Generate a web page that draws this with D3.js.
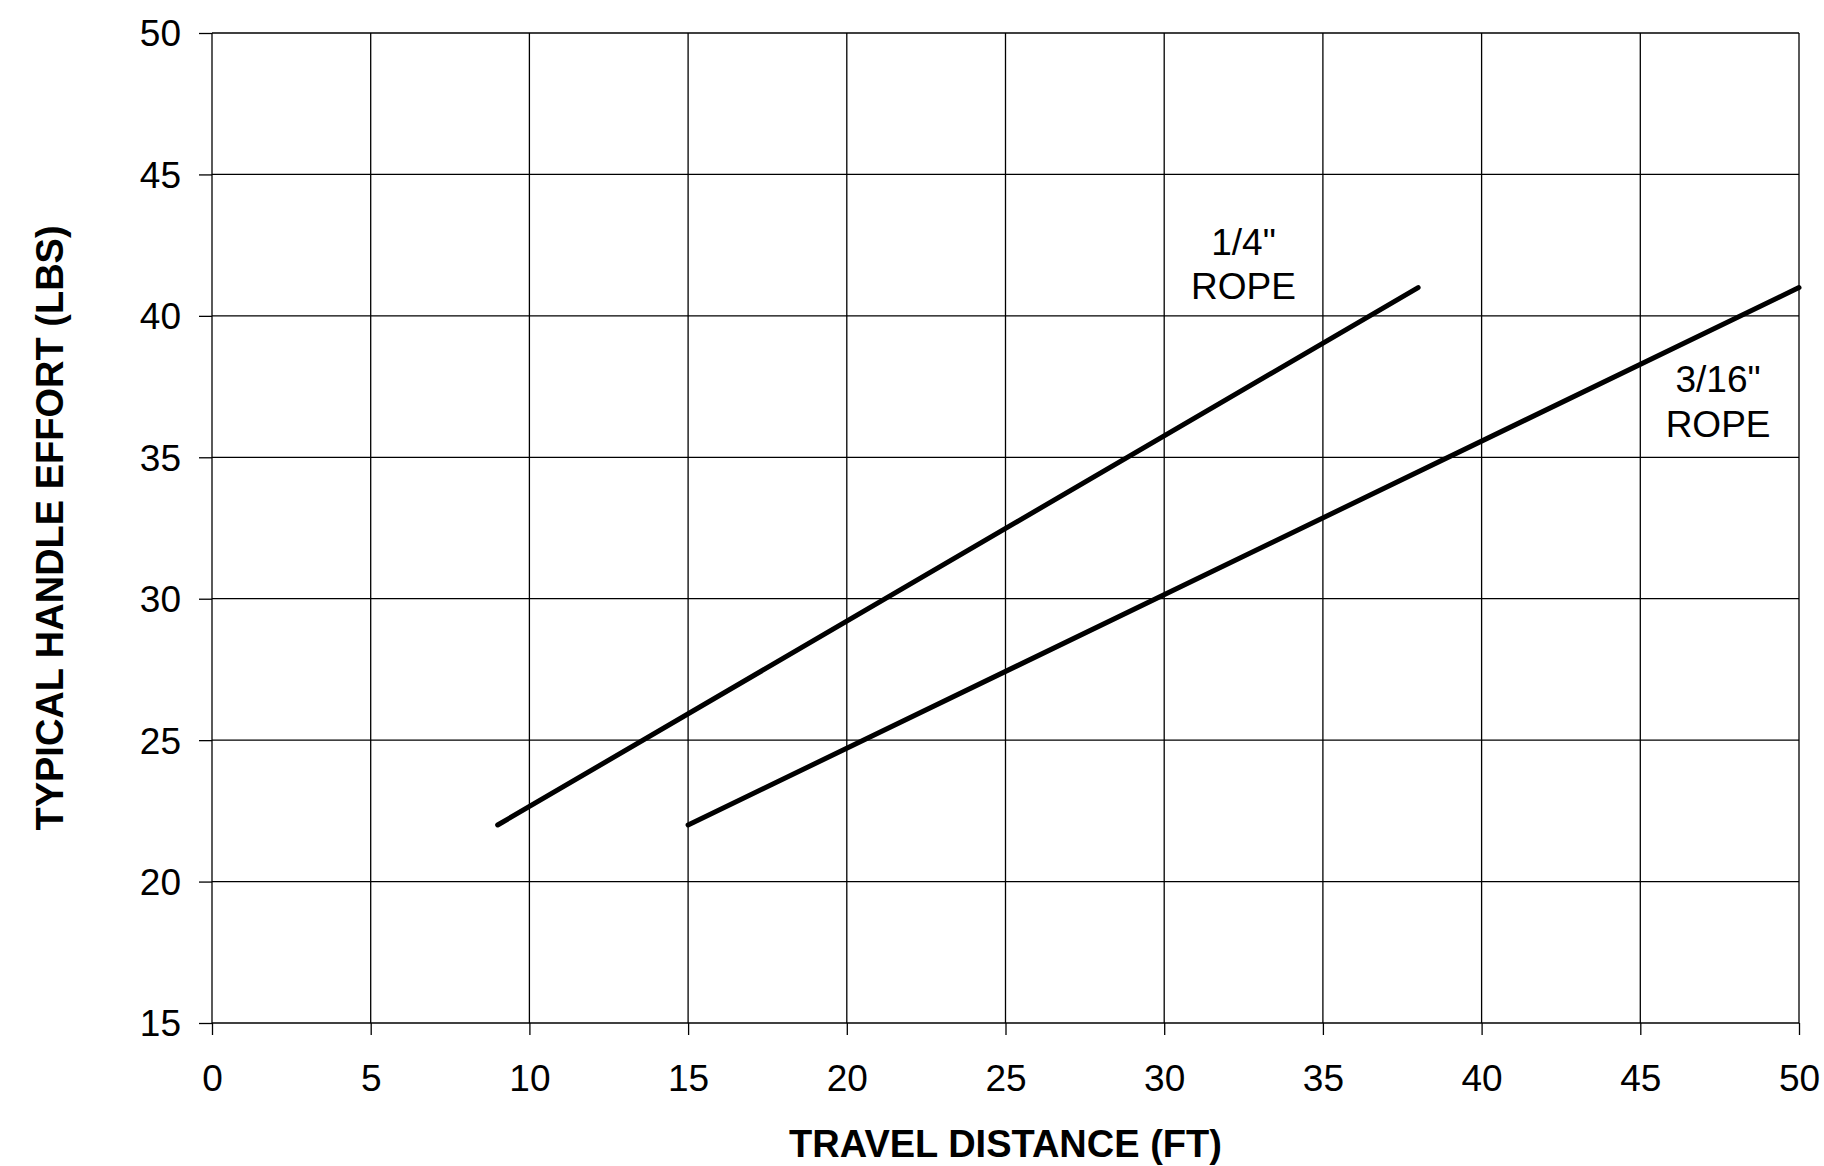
<!DOCTYPE html>
<html>
<head>
<meta charset="utf-8">
<script src="https://cdn.jsdelivr.net/npm/d3@7"></script>
<style>
  body { margin: 0; background: #fff; }
  svg { display: block; font-family: "Liberation Sans", Arial, sans-serif; }
  .axis text { font-size: 37px; fill: #000; }
  .axis path { display: none; }
  .axis line { stroke: #000; stroke-width: 1.3; }
  .grid line { stroke: #000; stroke-width: 1.3; }
  .title { font-size: 38px; font-weight: bold; fill: #000; }
  .lbl { font-size: 37px; fill: #000; }
</style>
</head>
<body>
<svg id="chart" width="1824" height="1166"></svg>
<script>
// rope sizes and their effort lines (travel distance ft, handle effort lbs)
var ropes = ["1/4\" ROPE", "3/16\" ROPE"];
var quarterRope = [[9, 22], [38, 41]];
var threeSixteenthRope = [[15, 22], [50, 41]];

// label anchors in data units, one entry per text line
var quarterLabel = [["1/4\"", 32.5, 42.15], ["ROPE", 32.5, 40.6]];
var threeSixteenthLabel = [["3/16\"", 47.45, 37.3], ["ROPE", 47.45, 35.72]];

var xTicks = [0, 5, 10, 15, 20, 25, 30, 35, 40, 45, 50];
var yTicks = [15, 20, 25, 30, 35, 40, 45, 50];

drawChart();

function drawChart(){
  var svg = d3.select("#chart"),
  margin = {top: 33, right: 25, bottom: 143, left: 212},
  width = +svg.attr("width") - margin.left - margin.right,
  height = +svg.attr("height") - margin.top - margin.bottom,
  g = svg.append("g").attr("transform", "translate(" + margin.left + "," + margin.top + ")");

  var x = d3.scaleLinear().domain([0, 50]).range([0, width]);
  var y = d3.scaleLinear().domain([15, 50]).range([height, 0]);

  // grid (also forms the frame)
  g.append("g").attr("class", "grid")
    .selectAll("line.v").data(xTicks).enter().append("line")
    .attr("x1", function(d) { return x(d); })
    .attr("x2", function(d) { return x(d); })
    .attr("y1", 0).attr("y2", height);

  g.append("g").attr("class", "grid")
    .selectAll("line.h").data(yTicks).enter().append("line")
    .attr("y1", function(d) { return y(d); })
    .attr("y2", function(d) { return y(d); })
    .attr("x1", 0).attr("x2", width);

  g.append("g")
    .attr("class", "axis")
    .attr("transform", "translate(0," + height + ")")
    .call(d3.axisBottom(x).tickValues(xTicks).tickSize(12).tickPadding(30));

  g.append("g")
    .attr("class", "axis")
    .call(d3.axisLeft(y).tickValues(yTicks).tickSize(13).tickPadding(18))
    .selectAll("text").attr("dy", "0.35em");

  var line = d3.line()
    .x(function(d) { return x(d[0]); })
    .y(function(d) { return y(d[1]); });

  [quarterRope, threeSixteenthRope].forEach(function(data, i) {
    g.append("path")
      .datum(data)
      .attr("class", "rope")
      .attr("id", "rope" + i)
      .attr("fill", "none")
      .attr("stroke", "#000")
      .attr("stroke-width", 5)
      .attr("stroke-linecap", "round")
      .attr("d", line);
  });

  quarterLabel.concat(threeSixteenthLabel).forEach(function(d) {
    g.append("text")
      .attr("class", "lbl")
      .attr("x", x(d[1]))
      .attr("y", y(d[2]))
      .attr("text-anchor", "middle")
      .text(d[0]);
  });

  svg.append("text")
    .attr("class", "title")
    .attr("x", margin.left + width / 2)
    .attr("y", 1157)
    .attr("text-anchor", "middle")
    .text("TRAVEL DISTANCE (FT)");

  svg.append("text")
    .attr("class", "title")
    .attr("transform", "translate(63," + (margin.top + height / 2) + ") rotate(-90)")
    .attr("text-anchor", "middle")
    .text("TYPICAL HANDLE EFFORT (LBS)");
}
</script>
</body>
</html>
